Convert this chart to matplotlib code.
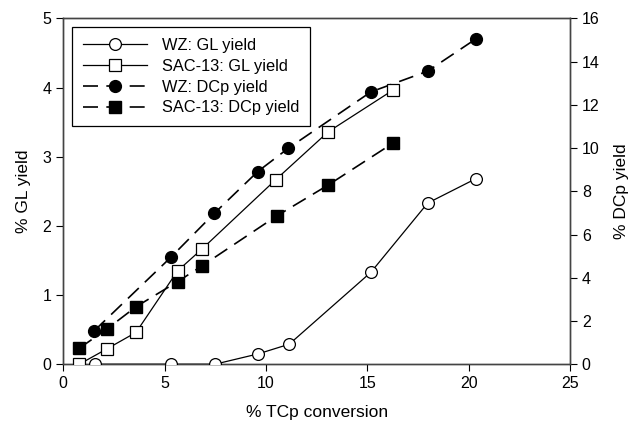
import matplotlib
matplotlib.use("Agg")
import matplotlib.pyplot as plt

plt.rcParams["font.family"] = ["Liberation Sans", "DejaVu Sans"]

# % TCp conversion vs % GL yield (left axis)
wz_gl_x = [1.56, 5.31, 7.48, 9.62, 11.15, 15.18, 17.98, 20.34]
wz_gl_y = [0.0, 0.0, 0.0, 0.15, 0.29, 1.33, 2.33, 2.68]
sac_gl_x = [0.79, 2.14, 3.59, 5.64, 6.86, 10.49, 13.07, 16.25]
sac_gl_y = [0.0, 0.22, 0.46, 1.35, 1.67, 2.67, 3.36, 3.96]

# % TCp conversion vs % DCp yield (right axis)
wz_dcp_x = [1.53, 5.31, 7.45, 9.59, 11.10, 15.18, 17.98, 20.34]
wz_dcp_y = [1.55, 4.95, 6.98, 8.91, 9.99, 12.60, 13.56, 15.04]
sac_dcp_x = [0.79, 2.14, 3.59, 5.64, 6.86, 10.53, 13.07, 16.25]
sac_dcp_y = [0.74, 1.62, 2.66, 3.82, 4.56, 6.86, 8.29, 10.22]

fig = plt.figure(figsize=(6.34, 4.28), dpi=100)
ax = fig.add_axes([0.0998, 0.149, 0.7992, 0.808])
ax2 = ax.twinx()

dash = (0, (9, 5))
ms = 8.5
lw = 0.9

h1, = ax.plot(wz_gl_x, wz_gl_y, "-", color="black", lw=lw, marker="o", ms=ms,
              mfc="white", mec="black", mew=0.9, label="WZ: GL yield", zorder=3)
h2, = ax.plot(sac_gl_x, sac_gl_y, "-", color="black", lw=lw, marker="s", ms=ms,
              mfc="white", mec="black", mew=0.9, label="SAC-13: GL yield", zorder=3)
h3, = ax2.plot(wz_dcp_x, wz_dcp_y, linestyle=dash, color="black", lw=1.2, marker="o",
               ms=ms, mfc="black", mec="black", label="WZ: DCp yield", zorder=2)
h4, = ax2.plot(sac_dcp_x, sac_dcp_y, linestyle=dash, color="black", lw=1.2, marker="s",
               ms=ms, mfc="black", mec="black", label="SAC-13: DCp yield", zorder=2)

ax.set_xlim(0, 25)
ax.set_ylim(0, 5)
ax2.set_ylim(0, 16)
ax.set_xticks([0, 5, 10, 15, 20, 25])
ax.set_yticks([0, 1, 2, 3, 4, 5])
ax2.set_yticks(range(0, 17, 2))

for a in (ax, ax2):
    a.tick_params(direction="out", length=5, width=0.8, labelsize=11.5, colors="black")
    for s in a.spines.values():
        s.set_color("#444444")
        s.set_linewidth(1.0)

ax.set_xlabel("% TCp conversion", fontsize=12.5, labelpad=10)
ax.set_ylabel("% GL yield", fontsize=12.5, labelpad=8)
ax2.set_ylabel("% DCp yield", fontsize=12.5, labelpad=10, rotation=90)

# keep the open-marker series above the dashed ones
ax.set_zorder(ax2.get_zorder() + 1)
ax.patch.set_visible(False)

leg = ax.legend(handles=[h1, h2, h3, h4], loc="upper left",
                bbox_to_anchor=(0.018, 0.975), borderaxespad=0,
                fontsize=11.8, frameon=True,
                fancybox=False, edgecolor="black", framealpha=1,
                handlelength=3.9, borderpad=0.65, labelspacing=0.36,
                handletextpad=0.9)
leg.get_frame().set_linewidth(0.9)

fig.savefig("out.png", dpi=100)
